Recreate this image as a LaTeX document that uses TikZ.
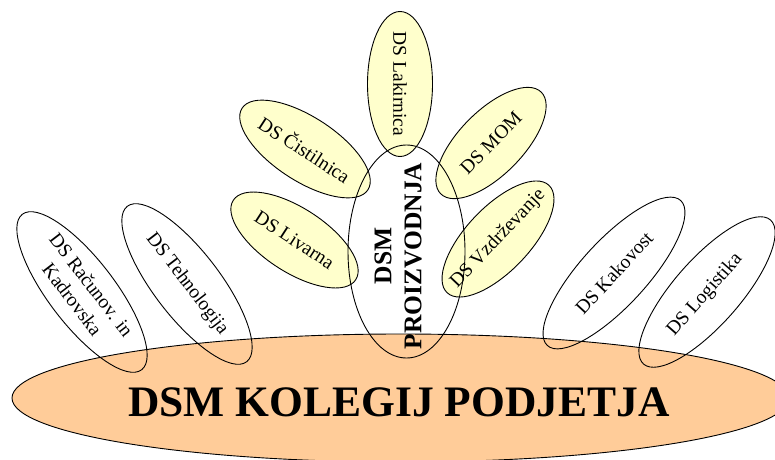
\documentclass[tikz,border=0pt]{standalone}
\usepackage{fontspec}
\setmainfont{Liberation Serif}
\usetikzlibrary{shapes.geometric}
\definecolor{peach}{HTML}{FFCC99}
\definecolor{paleyellow}{HTML}{FFFFCC}
\tikzset{
  oval/.style={ellipse, draw=black, line width=0.9pt, inner sep=0pt},
  unit/.style={oval},
  prod/.style={oval, fill=paleyellow},
  lbl/.style={inner sep=0pt, align=center, font=\fontsize{19.5}{24}\selectfont},
  bigtitle/.style={inner sep=0pt, font=\fontsize{43.5}{50}\selectfont\bfseries},
  prodtitle/.style={inner sep=0pt, align=center, font=\fontsize{25.5}{30}\selectfont\bfseries}
}
\begin{document}
\begin{tikzpicture}[x=1pt,y=1pt]
\useasboundingbox (0,0) rectangle (775,459);
\clip (0,0) rectangle (775,459);

% company board
\node[oval, fill=peach, minimum width=777pt, minimum height=128pt] (board) at (400.5,61) {};

% service units on the board
\node[unit, minimum width=196pt, minimum height=66pt, rotate=-52.5] (rac) at (82,167) {};
\node[unit, minimum width=196pt, minimum height=66pt, rotate=-52.5] (teh) at (187,175) {};
\node[unit, minimum width=197pt, minimum height=66pt, rotate=47.4] (kak) at (614,186) {};
\node[unit, minimum width=192pt, minimum height=66pt, rotate=48.6] (log) at (707,167) {};

% production units
\node[prod, minimum width=145pt, minimum height=65pt, rotate=90] (lak) at (400,375) {};
\node[prod, minimum width=150pt, minimum height=64pt, rotate=-33] (cis) at (305,310) {};
\node[prod, minimum width=146pt, minimum height=64pt, rotate=-33] (liv) at (294.5,219) {};
\node[prod, minimum width=143pt, minimum height=64pt, rotate=45.4] (mom) at (491,316) {};
\node[prod, minimum width=148pt, minimum height=64pt, rotate=46.5] (vzd) at (498,220) {};

% production board
\node[oval, minimum width=117pt, minimum height=213pt] (proizv) at (406.5,207.5) {};

% labels
\node[bigtitle, anchor=base] (tboard) at (399,43) {DSM KOLEGIJ PODJETJA};
\node[prodtitle, rotate=90] (tproizv) at (398,203) {DSM\\PROIZVODNJA};
\node[lbl, rotate=-52.5] (trac) at (rac.center) {DS Računov. in\\Kadrovska};
\node[lbl, rotate=-52.5] (tteh) at (teh.center) {DS Tehnologija};
\node[lbl, rotate=47.4] (tkak) at (kak.center) {DS Kakovost};
\node[lbl, rotate=48.6] (tlog) at ([shift={(-2,-3)}]log.center) {DS Logistika};
\node[lbl, rotate=-90] (tlak) at (lak.center) {DS Lakirnica};
\node[lbl, rotate=-33] (tcis) at (cis.center) {DS Čistilnica};
\node[lbl, rotate=-33] (tliv) at (liv.center) {DS Livarna};
\node[lbl, rotate=45.4] (tmom) at (mom.center) {DS MOM};
\node[lbl, rotate=46.5] (tvzd) at (vzd.center) {DS Vzdrževanje};
\end{tikzpicture}
\end{document}
